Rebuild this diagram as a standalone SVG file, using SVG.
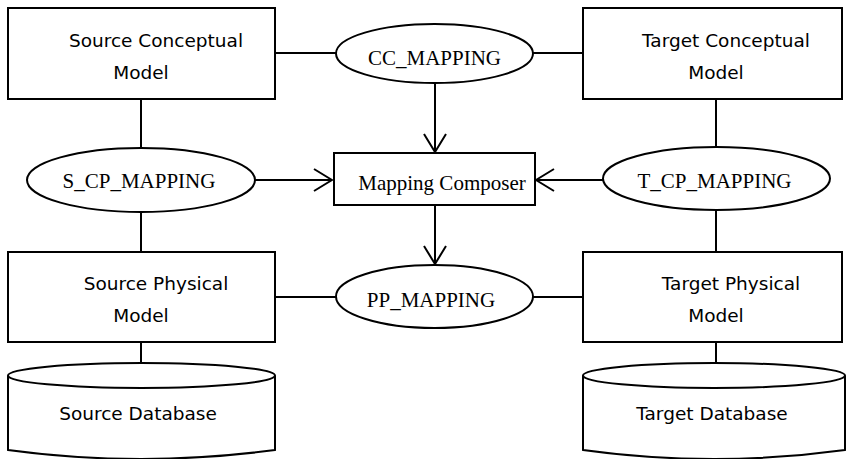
<svg xmlns="http://www.w3.org/2000/svg" width="846" height="459" viewBox="0 0 846 459">
<style>
.box{fill:#fff;stroke:#000;stroke-width:2}
.ell{fill:#fff;stroke:#000;stroke-width:2}
.ln{fill:none;stroke:#000;stroke-width:2}
.sans{font-family:"DejaVu Sans",Verdana,sans-serif;font-size:18.5px;fill:#000;text-anchor:middle}
.serif{font-family:"Liberation Serif","Times New Roman",serif;font-size:21px;fill:#000;text-anchor:middle}
</style>
<defs>
<marker id="arr" viewBox="0 0 20 24" refX="19" refY="12" markerWidth="20" markerHeight="24" markerUnits="userSpaceOnUse" orient="auto">
<path d="M1,1 L19,12 L1,23" fill="none" stroke="#000" stroke-width="2"/>
</marker>
</defs>
<rect width="846" height="459" fill="#fff"/>
<g id="connectors">
<line class="ln" x1="275" y1="53" x2="336" y2="53"/>
<line class="ln" x1="533" y1="53" x2="583" y2="53"/>
<line class="ln" x1="275" y1="297" x2="336" y2="297"/>
<line class="ln" x1="533" y1="297" x2="583" y2="297"/>
<line class="ln" x1="141" y1="99" x2="141" y2="148"/>
<line class="ln" x1="141" y1="212" x2="141" y2="252"/>
<line class="ln" x1="141" y1="342" x2="141" y2="363"/>
<line class="ln" x1="716" y1="99" x2="716" y2="147"/>
<line class="ln" x1="716" y1="210" x2="716" y2="252"/>
<line class="ln" x1="716" y1="342" x2="716" y2="363"/>
<line class="ln" x1="435" y1="83" x2="435" y2="152" marker-end="url(#arr)"/>
<line class="ln" x1="435" y1="205" x2="435" y2="264" marker-end="url(#arr)"/>
<line class="ln" x1="255" y1="180" x2="332" y2="180" marker-end="url(#arr)"/>
<line class="ln" x1="603" y1="180" x2="536" y2="180" marker-end="url(#arr)"/>
</g>
<g id="source-conceptual">
<rect class="box" x="8" y="8" width="267" height="91"/>
<text class="sans" x="156" y="47">Source Conceptual</text>
<text class="sans" x="141" y="79">Model</text>
</g>
<g id="target-conceptual">
<rect class="box" x="583" y="8" width="259" height="91"/>
<text class="sans" x="726" y="47">Target Conceptual</text>
<text class="sans" x="716" y="79">Model</text>
</g>
<g id="cc-mapping">
<ellipse class="ell" cx="434.5" cy="53.5" rx="98.5" ry="29.5"/>
<text class="serif" x="434.5" y="65">CC_MAPPING</text>
</g>
<g id="s-cp-mapping">
<ellipse class="ell" cx="141" cy="180" rx="114" ry="32"/>
<text class="serif" x="139" y="188">S_CP_MAPPING</text>
</g>
<g id="t-cp-mapping">
<ellipse class="ell" cx="716.5" cy="178.5" rx="113.5" ry="31.5"/>
<text class="serif" x="714.5" y="188">T_CP_MAPPING</text>
</g>
<g id="mapping-composer">
<rect class="box" x="334" y="153" width="201" height="52"/>
<text class="serif" x="442" y="190">Mapping Composer</text>
</g>
<g id="pp-mapping">
<ellipse class="ell" cx="434.5" cy="296.5" rx="98.5" ry="31.5"/>
<text class="serif" x="431" y="307">PP_MAPPING</text>
</g>
<g id="source-physical">
<rect class="box" x="8" y="252" width="267" height="90"/>
<text class="sans" x="156" y="290">Source Physical</text>
<text class="sans" x="141" y="322">Model</text>
</g>
<g id="target-physical">
<rect class="box" x="583" y="252" width="259" height="90"/>
<text class="sans" x="731" y="290">Target Physical</text>
<text class="sans" x="716" y="322">Model</text>
</g>
<g id="source-database">
<path class="box" d="M8,375.5 L8,450 Q141,468 275,450 L275,375.5"/>
<ellipse class="ell" cx="141.5" cy="375.5" rx="133.5" ry="12.5"/>
<text class="sans" x="138" y="420">Source Database</text>
</g>
<g id="target-database">
<path class="box" d="M583,375.5 L583,450 Q714,468 845,450 L845,375.5"/>
<ellipse class="ell" cx="714" cy="375.5" rx="131" ry="12.5"/>
<text class="sans" x="712" y="420">Target Database</text>
</g>
</svg>
